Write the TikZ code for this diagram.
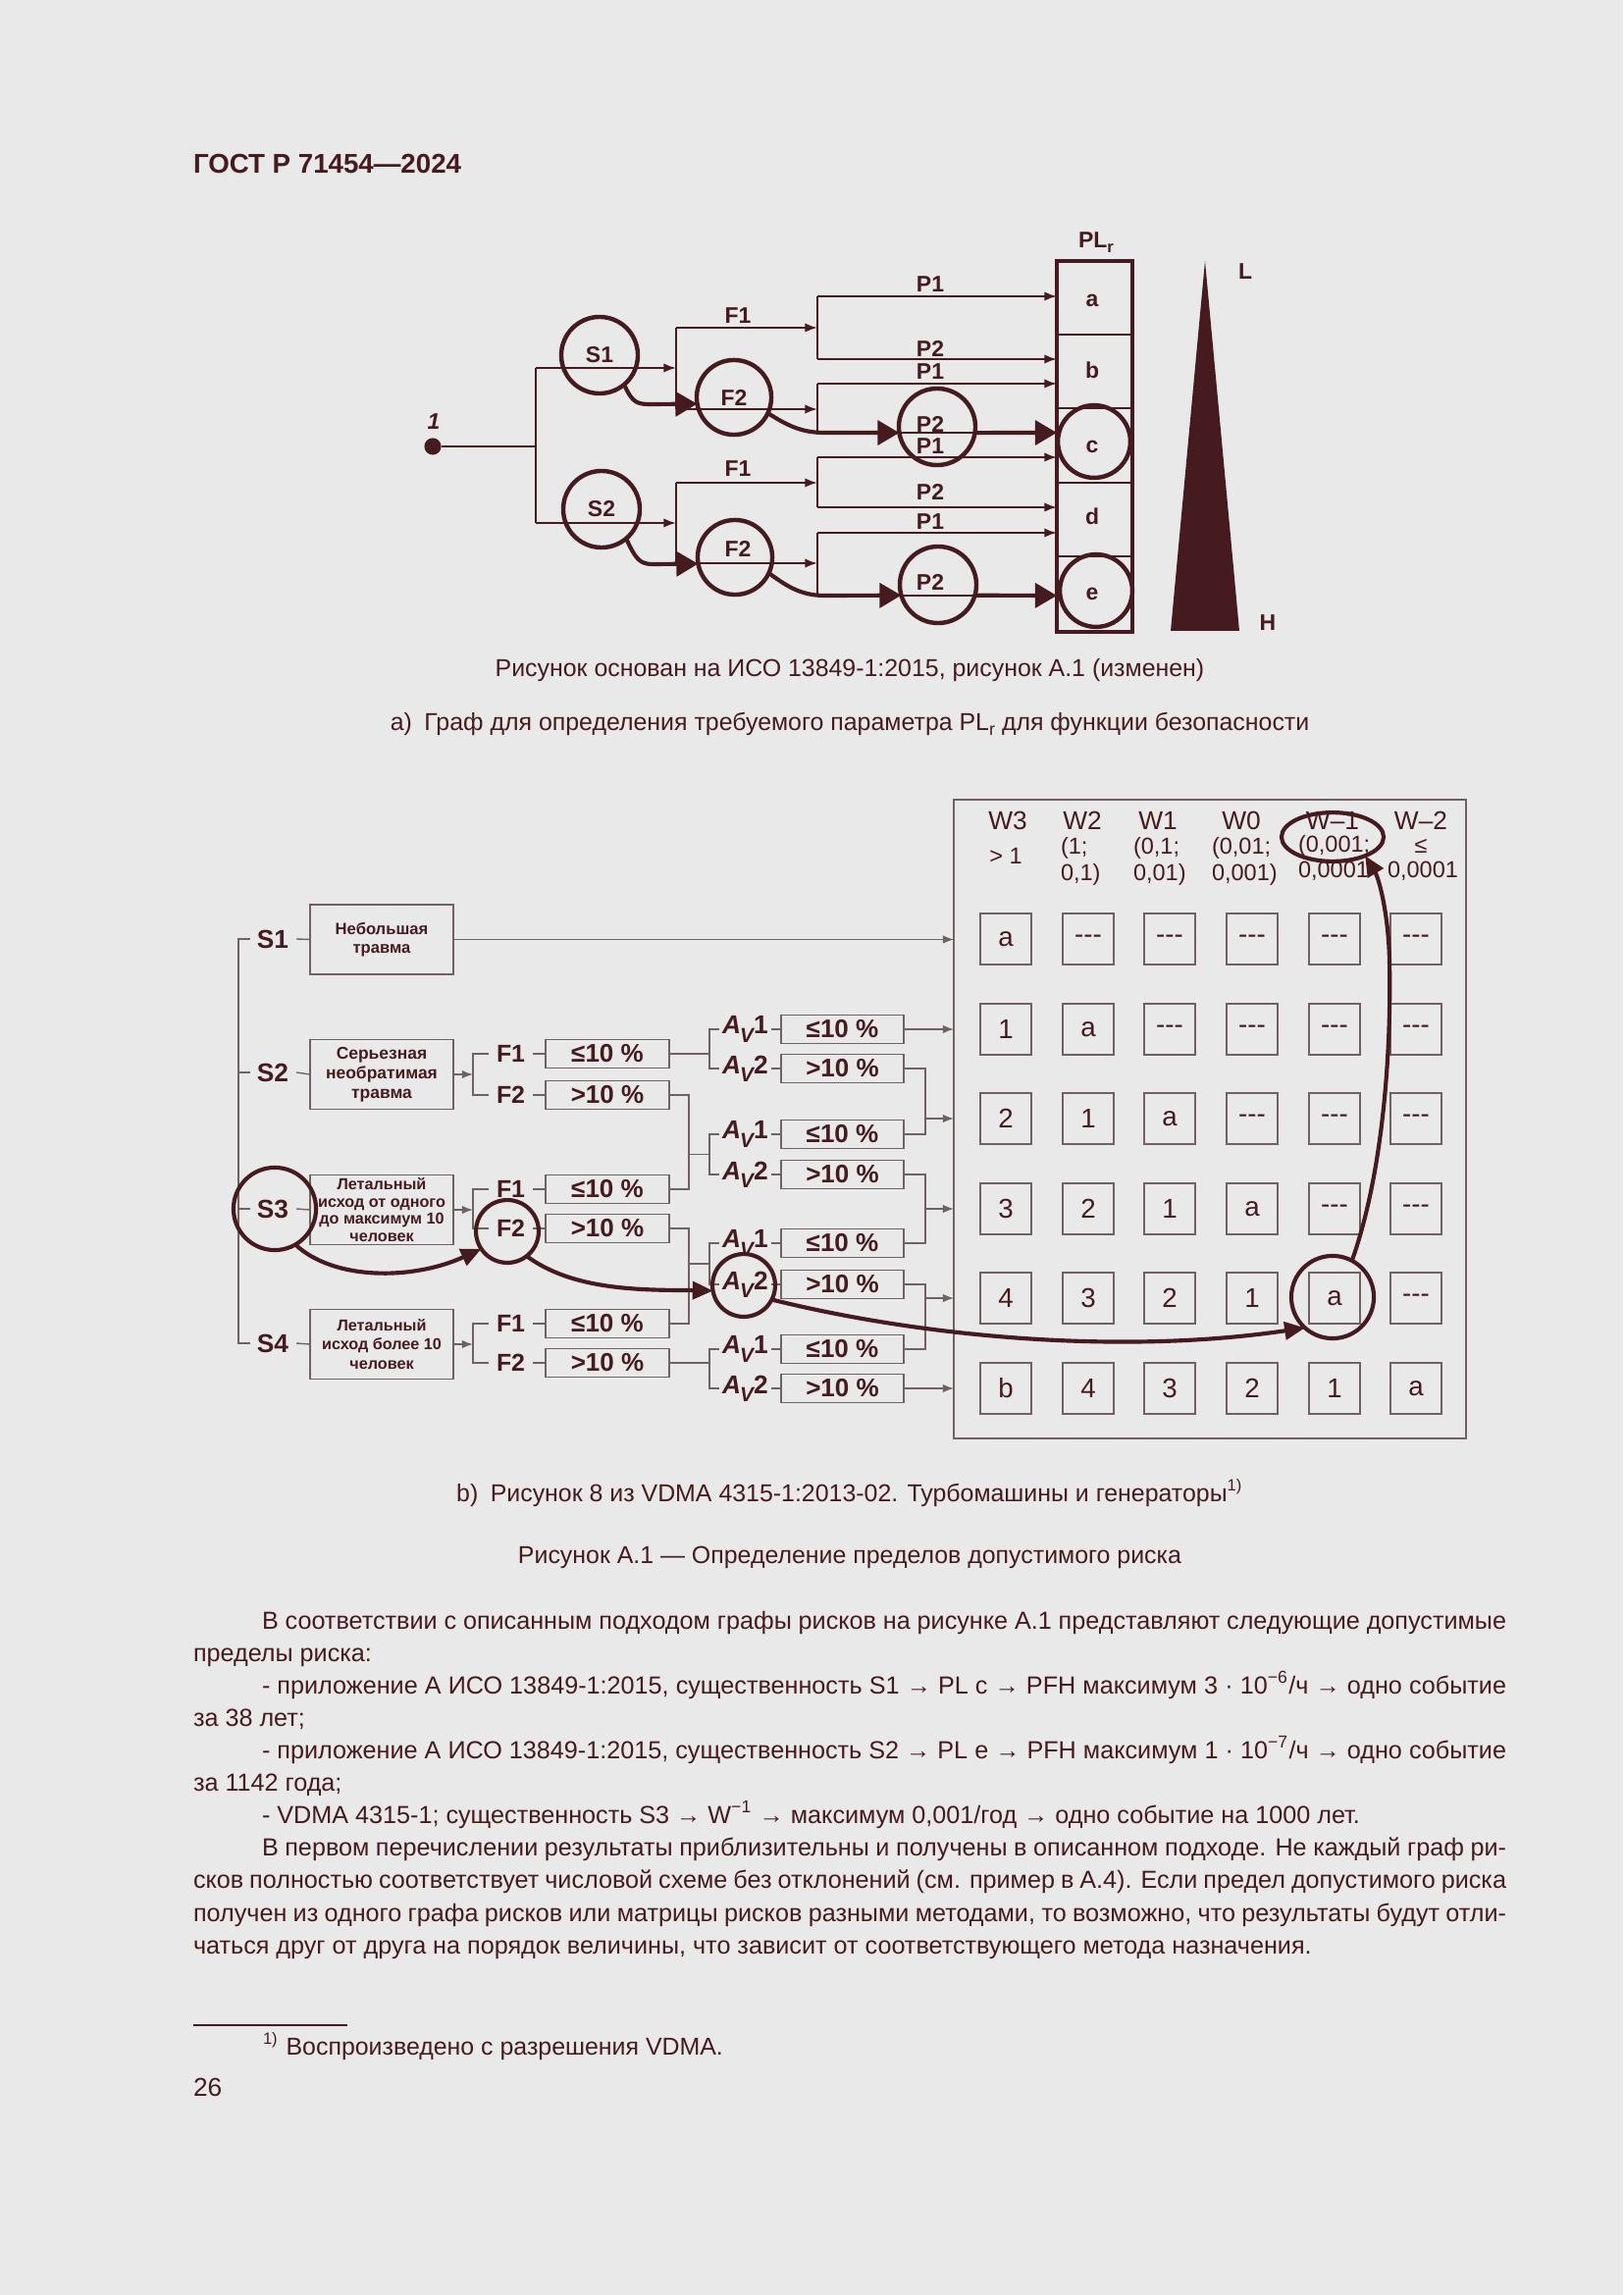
\documentclass[tikz,border=0pt]{standalone}
\usepackage{fontspec}
\setmainfont{Liberation Sans}
\usetikzlibrary{arrows.meta,shapes.geometric,calc}
\definecolor{bg}{RGB}{233,233,233}
\definecolor{ink}{RGB}{70,27,31}
\definecolor{gline}{RGB}{112,98,98}
\newcommand{\AvLab}[1]{{\itshape A}\kern-0.3pt\raisebox{-0.6ex}{\fontsize{7.5}{7.5}\selectfont\itshape V}#1}
\begin{document}
\begin{tikzpicture}[x=0.36135pt, y=-0.36135pt,
 every node/.style={text=ink, inner sep=0pt, outer sep=0pt},
 thinA/.style={draw=ink, line width=0.72pt},
 sarrA/.style={-{Latex[length=4.6pt,width=3.4pt]}},
 bigA/.style={draw=ink, line width=1.5pt, -{Triangle[length=8pt,width=9pt]}},
 labA/.style={font=\fontsize{8.3}{9}\selectfont\bfseries},
 ringA/.style={circle, draw=ink, line width=1.6pt, minimum size=28.2pt, labA},
 gl/.style={draw=gline, line width=0.5pt},
 sarrB/.style={-{Latex[length=4pt,width=3pt]}},
 bigB/.style={draw=ink, line width=1.5pt, -{Triangle[length=7.5pt,width=6.5pt]}},
 ringB/.style={circle, draw=ink, line width=1.5pt},
 slab/.style={font=\fontsize{9.5}{10}\selectfont\bfseries},
 flab/.style={font=\fontsize{9}{10}\selectfont\bfseries, anchor=west},
 avlab/.style={font=\fontsize{9.5}{10}\selectfont\bfseries, anchor=west},
 bbox/.style={draw=gline, line width=0.5pt, minimum width=52.76pt, minimum height=25.7pt, align=center, font=\fontsize{5.85}{6.3}\selectfont\bfseries},
 pbox/.style={draw=gline, line width=0.5pt, minimum width=45.5pt, minimum height=10.6pt, font=\fontsize{9.4}{10}\selectfont\bfseries},
 abox/.style={pbox, minimum width=45.2pt},
 cellb/.style={draw=gline, line width=0.5pt, minimum size=18.8pt, font=\fontsize{10}{12}\selectfont},
 whd/.style={font=\fontsize{9.5}{10}\selectfont},
 wsub/.style={font=\fontsize{8.5}{9}\selectfont},
 body/.style={font=\fontsize{9.1}{11}\selectfont, anchor=base west},
 captxt/.style={font=\fontsize{9}{11}\selectfont, anchor=base},
]
\useasboundingbox[fill=bg] (0,0) rectangle (1654,2339);

% header
\node[anchor=base west, font=\fontsize{10}{12}\selectfont\bfseries] (hdr) at (197,177) {ГОСТ Р 71454—2024};

% ================= part a =================
\node[circle, fill=ink, minimum size=6.2pt] (dot) at (441,455) {};
\node[font=\fontsize{8.3}{9}\selectfont\bfseries\itshape] (one) at (442,430) {1};
\coordinate (ja) at (546,455);
\coordinate (ja1) at (546,375); \coordinate (ja2) at (546,533);
\coordinate (jb1) at (689,375); \coordinate (jb1t) at (689,334); \coordinate (jb1b) at (689,417);
\coordinate (jb2) at (689,533); \coordinate (jb2t) at (689,492); \coordinate (jb2b) at (689,574);
\coordinate (jc1) at (833,334); \coordinate (jc2) at (833,417);
\coordinate (jc3) at (833,492); \coordinate (jc4) at (833,574);

\draw[thinA] (dot) -- (ja);
\draw[thinA] (ja1) -- (ja2);
\draw[thinA, sarrA] (ja1) -- (jb1);
\draw[thinA, sarrA] (ja2) -- (jb2);
\draw[thinA] (jb1t) -- (jb1b);
\draw[thinA] (jb2t) -- (jb2b);
\draw[thinA, sarrA] (jb1t) -- (jc1);
\draw[thinA, sarrA] (jb1b) -- (jc2);
\draw[thinA, sarrA] (jb2t) -- (jc3);
\draw[thinA, sarrA] (jb2b) -- (jc4);

\foreach \y [count=\i] in {302,366,391,441,466,517,543,607}{
  \coordinate (ps\i) at (833,\y);
  \coordinate (pe\i) at (1077,\y);
  \draw[thinA, sarrA] (ps\i) -- (pe\i);
}
\draw[thinA] (ps1) -- (ps2);
\draw[thinA] (ps3) -- (ps4);
\draw[thinA] (ps5) -- (ps6);
\draw[thinA] (ps7) -- (ps8);

% PL column
\draw[ink, line width=1.5pt] (1077,266) rectangle (1154,644);
\foreach \y in {341,416,492,567} \draw[ink, line width=0.8pt] (1077,\y) -- (1154,\y);
\node[labA] (La) at (1113,306) {a};
\node[labA] (Lb) at (1113,377) {b};
\node[labA] (Lc) at (1113,455) {c};
\node[labA] (Ld) at (1113,526) {d};
\node[labA] (Le) at (1113,605) {e};
\node[ringA, minimum size=26.7pt] (Cc) at (1115,450) {};
\node[ringA, minimum size=26.7pt] (Ce) at (1117,602) {};
\node[labA] (plr) at (1117,247) {PL\raisebox{-0.45ex}{\fontsize{6}{6}\selectfont r}};
\fill[ink] (1228,266) -- (1263,643) -- (1193,643) -- cycle;
\node[labA] (Ll) at (1269,277) {L};
\node[labA] (Hh) at (1292,635) {H};

% circles
\node[ringA] (S1) at (611,362) {S1};
\node[ringA] (S2) at (613,519) {S2};
\node[ringA, minimum size=27.5pt] (F2a) at (748,405) {F2};
\node[ringA, minimum size=27.5pt] (F2b) at (749,568) {};
\node[labA] (F2bl) at (752,559) {F2};
\node[ringA] (P2a) at (955,435) {};
\node[ringA] (P2b) at (956,596) {};
\node[labA] (F1a) at (752,322) {F1};
\node[labA] (F1b) at (752,478) {F1};
\foreach \y/\t [count=\i] in {290/P1,355/P2,379/P1,432/P2,455/P1,501/P2,532/P1,593/P2}
  \node[labA] (pl\i) at (948,\y) {\t};

% thick arrows a
\draw[bigA] (S1.-50) .. controls (645,412) and (650,412) .. (665,412) -- (F2a.190);
\draw[bigA] (F2a.-25) .. controls (800,432) and (815,441) .. (840,441) -- (P2a.189);
\draw[bigA] (P2a.-9) -- (pe4);
\draw[bigA] (S2.-50) .. controls (648,570) and (652,575) .. (665,575) -- (F2b.190);
\draw[bigA] (F2b.-25) .. controls (800,596) and (815,607) .. (840,607) -- (P2b.196);
\draw[bigA] (P2b.-16) -- (pe8);

% captions a
\node[captxt] (capa1) at (866,690) {Рисунок основан на ИСО 13849-1:2015, рисунок А.1 (изменен)};
\node[captxt] (capa2) at (866,744) {а)\hspace{0.5em}Граф для определения требуемого параметра PL\raisebox{-0.45ex}{\fontsize{6.5}{6.5}\selectfont r} для функции безопасности};

% ================= part b =================
\node[draw=gline, line width=0.5pt, minimum width=188.6pt, minimum height=235.2pt] (Mx) at (1233,1140.5) {};

\foreach \y [count=\r] in {957,1049,1140,1232,1323,1415}{
  \foreach \x [count=\c] in {1025,1109,1192,1276,1360,1443}{
    \pgfmathtruncatemacro{\d}{\r-\c}
    \ifnum\d<0 \def\celltext{-{}-{}-}\else\ifnum\d=0 \def\celltext{a}\else\ifnum\d=5 \def\celltext{b}\else\edef\celltext{\d}\fi\fi\fi
    \node[cellb] (c\r\c) at (\x,\y) {\celltext};
  }
}

\node[whd] (W3) at (1027,836) {W3};
\node[whd] (W2) at (1103,836) {W2};
\node[whd] (W1) at (1180,836) {W1};
\node[whd] (W0) at (1265,836) {W0};
\node[whd] (Wm1) at (1358,836) {W–1};
\node[whd] (Wm2) at (1448,836) {W–2};
\node[wsub] (h31) at (1025,872) {> 1};
\node[wsub, anchor=west] (h21) at (1081,864) {(1;};
\node[wsub, anchor=west] (h22) at (1081,891) {0,1)};
\node[wsub, anchor=west] (h11) at (1155,864) {(0,1;};
\node[wsub, anchor=west] (h12) at (1155,891) {0,01)};
\node[wsub, anchor=west] (h01) at (1235,864) {(0,01;};
\node[wsub, anchor=west] (h02) at (1235,891) {0,001)};
\node[wsub, anchor=west] (hm11) at (1323,862) {(0,001;};
\node[wsub, anchor=west] (hm12) at (1323,888) {0,0001};
\node[wsub] (hm21) at (1448,862) {≤};
\node[wsub, anchor=west] (hm22) at (1414,888) {0,0001};

\node[slab] (S1b) at (278,957) {S1};
\node[slab] (S2b) at (278,1093) {S2};
\node[slab] (S3b) at (278,1232) {S3};
\node[slab] (S4b) at (278,1369) {S4};
\coordinate (k0) at (243,0);
\draw[gl] ($(S1b.west)+(-7,0)$) -- (S1b.west -| k0) -- (S4b.west -| k0) -- ($(S4b.west)+(-7,0)$);
\draw[gl] (S2b.west -| k0) -- ($(S2b.west)+(-7,0)$);
\draw[gl] (S3b.west -| k0) -- ($(S3b.west)+(-7,0)$);

\node[bbox, font=\fontsize{6}{7}\selectfont\bfseries] (B1) at (389,957.5) {Небольшая\\травма};
\node[bbox, font=\fontsize{6.3}{7.2}\selectfont\bfseries] (B2) at (389,1095) {Серьезная\\необратимая\\травма};
\node[bbox] (B3) at (389,1233) {Летальный\\исход от одного\\до максимум 10\\человек};
\node[bbox, font=\fontsize{5.85}{7}\selectfont\bfseries] (B4) at (389,1370) {Летальный\\исход более 10\\человек};
\foreach \i in {1,2,3,4} \draw[gl] ($(S\i b.east)+(8,0)$) -- (B\i.west);
\draw[gl, sarrB] (B1.east) -- (B1.east -| Mx.west);

\coordinate (k2) at (482,0);
\foreach \s/\ya/\yb in {2/1074/1116, 3/1212/1252, 4/1349/1389}{
  \node[flab] (F1s\s) at (506,\ya) {F1};
  \node[flab] (F2s\s) at (506,\yb) {F2};
  \node[pbox] (P1s\s) at (619,\ya) {≤10 \%};
  \node[pbox] (P2s\s) at (619,\yb) {>10 \%};
  \draw[gl, sarrB] (B\s.east) -- (B\s.east -| k2);
  \draw[gl] ($(F1s\s.west)+(-8,0)$) -- (F1s\s.west -| k2) -- (F2s\s.west -| k2) -- ($(F2s\s.west)+(-8,0)$);
  \draw[gl] ($(F1s\s.east)+(8,0)$) -- (P1s\s.west);
  \draw[gl] ($(F2s\s.east)+(8,0)$) -- (P2s\s.west);
}

\coordinate (xA) at (723,0); \coordinate (xB) at (702,0); \coordinate (xC) at (943,0);
\foreach \y [count=\i] in {1049,1089,1156,1197,1267,1309,1375,1415}{
  \pgfmathtruncatemacro{\odd}{mod(\i,2)}
  \ifnum\odd=1
    \node[avlab] (Av\i) at (736,\y) {\AvLab{1}};
    \node[abox] (Q\i) at (858.5,\y) {≤10 \%};
  \else
    \node[avlab] (Av\i) at (736,\y) {\AvLab{2}};
    \node[abox] (Q\i) at (858.5,\y) {>10 \%};
  \fi
  \draw[gl] ($(Av\i.east)+(3,0)$) -- (Q\i.west);
}
\foreach \a/\b in {1/2,3/4,5/6,7/8}
  \draw[gl] ($(Av\a.west)+(-3,0)$) -- (Av\a.west -| xA) -- (Av\b.west -| xA) -- ($(Av\b.west)+(-3,0)$);

\draw[gl] (P1s2.east) -- (P1s2.east -| xA);
\draw[gl] (P2s2.east) -- (P2s2.east -| xB) -- (P1s3.east -| xB) -- (P1s3.east);
\coordinate (mm2) at ($(Av3.west)!0.5!(Av4.west)$);
\draw[gl] (xB |- mm2) -- (xA |- mm2);
\draw[gl] (P2s3.east) -- (P2s3.east -| xB) -- (P1s4.east -| xB) -- (P1s4.east);
\coordinate (mm3) at ($(Av5.west)!0.5!(Av6.west)$);
\draw[gl] (xB |- mm3) -- (xA |- mm3);
\draw[gl] (P2s4.east) -- (P2s4.east -| xA);

\draw[gl, sarrB] (Q1.east) -- (Mx.west |- Q1.east);
\draw[gl] (Q2.east) -- (Q2.east -| xC) -- (Q3.east -| xC) -- (Q3.east);
\draw[gl, sarrB] (xC |- c31) -- (Mx.west |- c31);
\draw[gl] (Q4.east) -- (Q4.east -| xC) -- (Q5.east -| xC) -- (Q5.east);
\draw[gl, sarrB] (xC |- c41) -- (Mx.west |- c41);
\draw[gl] (Q6.east) -- (Q6.east -| xC) -- (Q7.east -| xC) -- (Q7.east);
\draw[gl, sarrB] (xC |- c51) -- (Mx.west |- c51);
\draw[gl, sarrB] (Q8.east) -- (Mx.west |- Q8.east);

\node[ringB, minimum size=30.4pt] (S3c) at (280,1232) {};
\node[ringB, minimum size=23.1pt] (F2c) at (517,1255) {};
\node[ringB, minimum size=23.1pt] (Av2c) at (758,1310) {};
\node[ringB, minimum size=30.4pt] (ac) at (1358,1322) {};
\node[ellipse, draw=ink, line width=1.5pt, minimum width=37.6pt, minimum height=18pt] (We) at (1358,853) {};

\draw[bigB] (S3c.-60) .. controls (340,1305) and (420,1305) .. (F2c.214);
\draw[bigB] (F2c.-52) .. controls (580,1312) and (640,1315) .. (700,1315) -- (Av2c.190);
\draw[bigB] (Av2c.-27) .. controls (950,1365) and (1150,1380) .. (ac.228);
\draw[bigB] (ac.62) .. controls (1408,1200) and (1418,1080) .. (1416,980) .. controls (1415,930) and (1405,895) .. (We.-30);

\node[captxt] (capb1) at (866,1530) {b)\hspace{0.5em}Рисунок 8 из VDMA 4315-1:2013-02. Турбомашины и генераторы\textsuperscript{1)}};
\node[captxt] (capb2) at (866,1593) {Рисунок А.1 — Определение пределов допустимого риска};

\node[body] (t1) at (267,1660) {\makebox[458.2pt][s]{В соответствии с описанным подходом графы рисков на рисунке А.1 представляют следующие допустимые}};
\node[body] (t2) at (197,1693) {пределы риска:};
\node[body] (t3) at (267,1726) {\makebox[458.2pt][s]{- приложение А ИСО 13849-1:2015, существенность S1 → PL c → PFH максимум 3 · 10\textsuperscript{−6}/ч → одно событие}};
\node[body] (t4) at (197,1759) {за 38 лет;};
\node[body] (t5) at (267,1792) {\makebox[458.2pt][s]{- приложение А ИСО 13849-1:2015, существенность S2 → PL e → PFH максимум 1 · 10\textsuperscript{−7}/ч → одно событие}};
\node[body] (t6) at (197,1825) {за 1142 года;};
\node[body] (t7) at (267,1858) {- VDMA 4315-1; существенность S3 → W\textsuperscript{−1} → максимум 0,001/год → одно событие на 1000 лет.};
\node[body] (t8) at (267,1891) {\makebox[458.2pt][s]{В первом перечислении результаты приблизительны и получены в описанном подходе. Не каждый граф ри-}};
\node[body] (t9) at (197,1924) {\makebox[483.5pt][s]{сков полностью соответствует числовой схеме без отклонений (см. пример в А.4). Если предел допустимого риска}};
\node[body] (t10) at (197,1958) {\makebox[483.5pt][s]{получен из одного графа рисков или матрицы рисков разными методами, то возможно, что результаты будут отли-}};
\node[body] (t11) at (197,1991) {чаться друг от друга на порядок величины, что зависит от соответствующего метода назначения.};

\draw[ink, line width=1pt] (197,2064) -- (354,2064);
\node[body, font=\fontsize{9}{11}\selectfont] (fn) at (268,2094) {\textsuperscript{1)}\hspace{0.3em}Воспроизведено с разрешения VDMA.};
\node[body, font=\fontsize{9.5}{11}\selectfont] (pg) at (197,2136) {26};
\end{tikzpicture}
\end{document}
